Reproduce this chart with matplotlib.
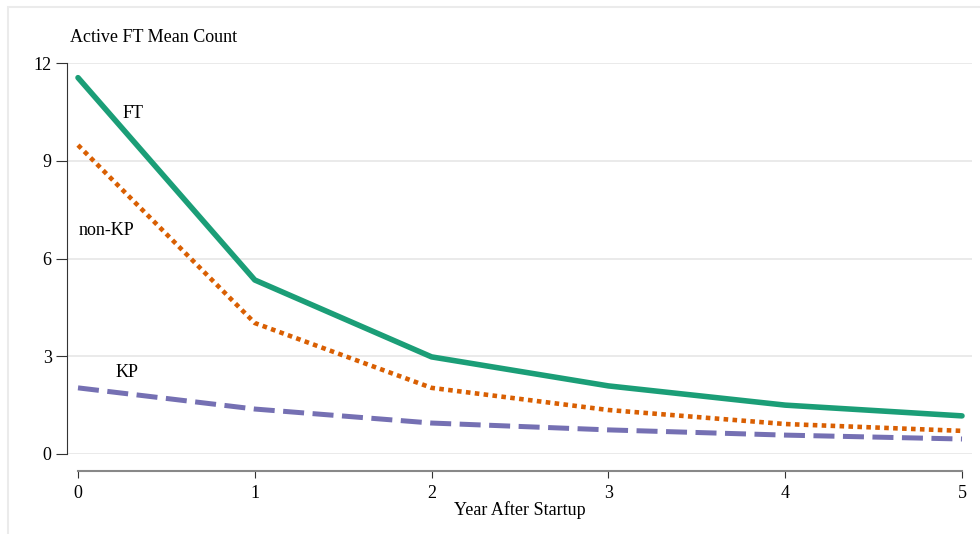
import matplotlib.pyplot as plt
from matplotlib.patches import Rectangle

# data
years = [0, 1, 2, 3, 4, 5]
ft = [11.55, 5.34, 2.98, 2.09, 1.50, 1.17]
non_kp = [9.48, 4.02, 2.03, 1.35, 0.92, 0.71]
kp = [2.03, 1.38, 0.95, 0.74, 0.58, 0.46]

plt.rcParams['font.family'] = ['Liberation Serif', 'DejaVu Serif']
fs = 13

fig = plt.figure(figsize=(9.8, 5.34), dpi=100)
ax = fig.add_axes([67 / 980, 1 - 454 / 534, (972 - 67) / 980, (454 - 63) / 534])

# light frame round the figure
fig.patches.append(Rectangle((8 / 980, -0.01), 1.2, 1 - 7 / 534 + 0.01, transform=fig.transFigure,
                             fill=False, edgecolor='#ebebeb', linewidth=1.5))

ax.plot(years, ft, color='#1b9e77', linewidth=4.0, solid_capstyle='round')
ax.plot(years, non_kp, color='#d95f02', linewidth=3.3, linestyle=(0, (1.0, 0.95)))
ax.plot(years, kp, color='#7570b3', linewidth=3.6, linestyle=(0, (4.2, 1.7)))

ax.text(0.31, 10.45, 'FT', fontsize=fs, ha='center', va='center')
ax.text(0.16, 6.87, 'non-KP', fontsize=fs, ha='center', va='center')
ax.text(0.28, 2.5, 'KP', fontsize=fs, ha='center', va='center')

ax.set_xlim(-(78 - 67) / 176.8, 5 + (972 - 962) / 176.8)
ax.set_ylim(0, 12)
ax.set_yticks([0, 3, 6, 9, 12])
ax.set_xticks(years)
ax.grid(axis='y', color='#e6e6e6', linewidth=1.2)
ax.set_axisbelow(True)

for s in ['top', 'right']:
    ax.spines[s].set_visible(False)
ax.spines['left'].set_bounds(0, 12)
ax.spines['left'].set_color('#333333')
ax.spines['bottom'].set_position(('outward', 12))
ax.spines['bottom'].set_bounds(0, 5)
ax.spines['bottom'].set_color('#888888')
ax.spines['bottom'].set_linewidth(1.5)
ax.tick_params(axis='y', length=8, color='#333333', labelsize=fs, pad=3)
ax.tick_params(axis='x', length=5, color='#333333', labelsize=fs, pad=5)

ax.set_xlabel('Year After Startup', fontsize=fs, labelpad=0)
fig.text(70 / 980, 1 - 37 / 534, 'Active FT Mean Count', fontsize=fs, ha='left', va='center')

fig.savefig('out.png', dpi=100)
